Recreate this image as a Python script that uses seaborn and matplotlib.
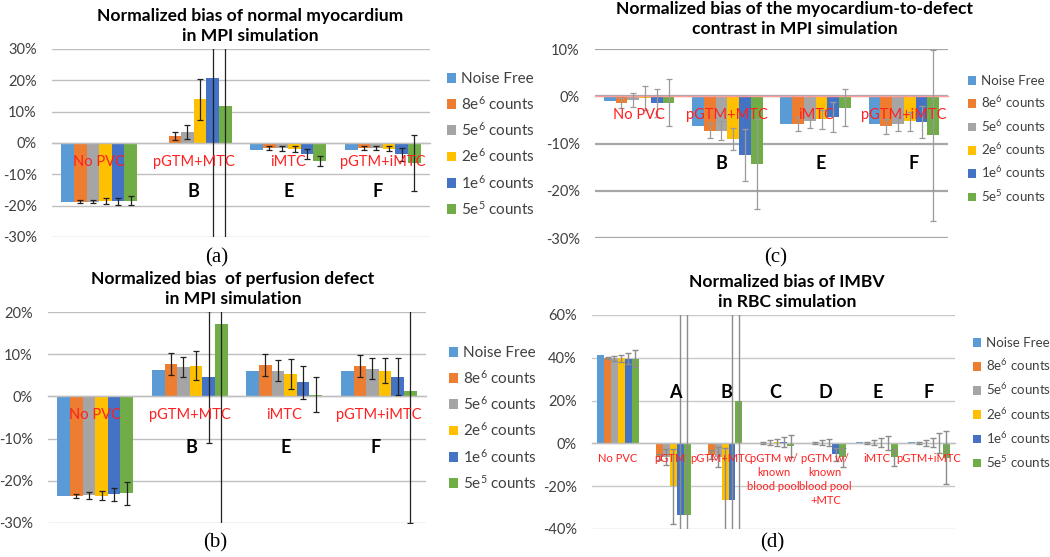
import numpy as np
import pandas as pd
import matplotlib
matplotlib.use("Agg")
import matplotlib.pyplot as plt
import seaborn as sns
from matplotlib.patches import Patch

# ---------------- data ----------------
SERIES = ["Noise Free", "8e$^6$ counts", "5e$^6$ counts",
          "2e$^6$ counts", "1e$^6$ counts", "5e$^5$ counts"]
COLORS = ["#5B9BD5", "#ED7D31", "#A5A5A5", "#FFC000", "#4472C4", "#70AD47"]

MPI_CATS = ["No PVC", "pGTM+MTC", "iMTC", "pGTM+iMTC"]
MPI_LETTERS = ["", "B", "E", "F"]

# (a) normal myocardium, rows = series, cols = categories (%)
A_VALS = [[-18.8, -0.1, -2.1, -2.1],
          [-18.8, 2.3, -1.6, -1.6],
          [-18.8, 3.5, -1.6, -1.6],
          [-18.6, 14.0, -1.8, -1.8],
          [-18.6, 20.8, -3.5, -3.6],
          [-18.4, 11.9, -5.7, -6.3]]
A_ERRS = [[0, 0, 0, 0],
          [0.5, 1.3, 0.5, 0.5],
          [0.5, 2.3, 0.8, 0.7],
          [0.9, 6.5, 1.0, 0.8],
          [1.2, 60, 1.5, 2.0],
          [1.5, 60, 1.6, 8.9]]

# (b) perfusion defect
B_VALS = [[-23.6, 6.3, 6.1, 6.1],
          [-23.6, 7.7, 7.4, 7.3],
          [-23.4, 6.9, 6.1, 6.6],
          [-23.5, 7.3, 5.3, 6.1],
          [-23.2, 4.6, 3.4, 4.7],
          [-23.0, 17.1, 0.4, 1.3]]
B_ERRS = [[0, 0, 0, 0],
          [0.4, 2.7, 2.6, 2.6],
          [0.8, 2.4, 2.5, 2.4],
          [1.0, 3.4, 3.5, 3.0],
          [1.6, 15.7, 3.9, 4.4],
          [2.8, 60, 4.1, 31.3]]

# (c) myocardium-to-defect contrast
C_VALS = [[-0.9, -6.3, -5.9, -5.9],
          [-1.4, -7.3, -5.9, -6.4],
          [-0.8, -7.3, -5.3, -5.9],
          [-0.4, -9.0, -4.9, -5.3],
          [-1.4, -12.4, -4.4, -5.4],
          [-1.4, -14.4, -2.4, -8.3]]
C_ERRS = [[0, 0, 0, 0],
          [1.0, 1.6, 1.5, 1.6],
          [1.5, 2.0, 1.5, 1.5],
          [2.5, 2.3, 2.0, 2.0],
          [3.0, 5.5, 3.1, 3.4],
          [5.0, 9.5, 3.9, 18.0]]

# (d) IMBV in RBC simulation
RBC_CATS = ["No PVC", "pGTM", "pGTM+MTC", "pGTM w/\nknown\nblood pool",
            "pGTM w/\nknown\nblood pool\n+MTC", "iMTC", "pGTM+iMTC"]
RBC_LETTERS = ["", "A", "B", "C", "D", "E", "F"]
D_VALS = [[41.1, -0.2, -0.2, 0.1, 0.2, 0.5, 0.6],
          [40.0, -6.3, -5.2, 0.2, 0.2, 0.3, 0.2],
          [39.8, -6.5, -6.5, 0.4, 0.4, 0.4, 0.3],
          [39.8, -20.0, -26.5, 0.5, 0.4, 0.3, 0.4],
          [39.6, -33.5, -26.5, 0.6, -5.0, 0.2, 0.2],
          [39.6, -33.5, 20.0, -1.2, -6.5, -6.5, -6.6]]
D_ERRS = [[0, 0, 0, 0, 0, 0, 0],
          [0.5, 1.5, 2.0, 0.4, 0.5, 0.5, 0.6],
          [1.2, 3.8, 4.7, 1.0, 1.0, 1.2, 1.3],
          [1.7, 17.5, 24.5, 1.5, 1.5, 2.0, 2.0],
          [2.5, 100, 100, 2.5, 3.0, 3.2, 4.5],
          [4.0, 100, 100, 5.3, 4.5, 4.0, 12.6]]

# ---------------- style ----------------
sns.set_style("white")
plt.rcParams["font.family"] = ["Lato", "DejaVu Sans"]
plt.rcParams["mathtext.fontset"] = "custom"
plt.rcParams["mathtext.rm"] = "Lato"
plt.rcParams["mathtext.it"] = "Lato:italic"
plt.rcParams["mathtext.bf"] = "Lato:bold"
plt.rcParams["axes.unicode_minus"] = False

W, H = 1050, 557
fig = plt.figure(figsize=(W / 100, H / 100), dpi=100)
TXT = "#404040"
RED = "#FF2020"


def px_axes(left, top, right, bottom):
    return fig.add_axes([left / W, 1 - bottom / H, (right - left) / W, (bottom - top) / H])


def panel(box, cats, vals, errs, ylo, yhi, step, grid_c, grid_lw, zero_c,
          err_c, err_lw, label_y, label_fs, label_va, label_ls, letters, letter_y,
          letter_dx, xticks=True):
    ax = px_axes(*box)
    rows = [(c, s, v) for s, row in zip(SERIES, vals) for c, v in zip(cats, row)]
    df = pd.DataFrame(rows, columns=["cat", "series", "val"])
    sns.barplot(data=df, x="cat", y="val", hue="series", order=cats,
                hue_order=SERIES, palette=COLORS, saturation=1, errorbar=None,
                legend=False, width=0.8, linewidth=0, ax=ax, zorder=2)
    for cont, vrow, erow in zip(ax.containers, vals, errs):
        for bar, v, e in zip(cont, vrow, erow):
            if e <= 0:
                continue
            x = bar.get_x() + bar.get_width() / 2
            ax.errorbar(x, v, yerr=e, fmt="none", ecolor=err_c,
                        elinewidth=err_lw, capsize=2.2, capthick=err_lw, zorder=4)
    n = len(cats)
    ax.set_xlim(-0.5, n - 0.5)
    ax.set_ylim(ylo, yhi)
    ticks = np.arange(ylo, yhi + 0.1, step)
    ax.set_yticks(ticks)
    ax.set_yticklabels([f"{t:.0f}%" for t in ticks])
    ax.tick_params(axis="y", length=0, pad=11, labelsize=10.5, labelcolor=TXT)
    ax.grid(axis="y", color=grid_c, lw=grid_lw)
    ax.grid(axis="x", visible=False)
    ax.set_axisbelow(True)
    ax.set_xlabel("")
    ax.set_ylabel("")
    for s in ["top", "right", "left"]:
        ax.spines[s].set_visible(False)
    ax.spines["bottom"].set_position(("data", 0))
    ax.spines["bottom"].set_color(zero_c)
    ax.spines["bottom"].set_linewidth(1.0)
    ax.spines["bottom"].set_zorder(3)
    ax.set_xticks(np.arange(-0.5, n, 1.0))
    ax.tick_params(axis="x", labelbottom=False, direction="inout",
                   length=5 if xticks else 0, color=zero_c, width=0.8)
    for j, c in enumerate(cats):
        ax.text(j, label_y, c, color=RED, ha="center", va=label_va,
                fontsize=label_fs, zorder=10, linespacing=label_ls)
    for j, (lt, dx) in enumerate(zip(letters, letter_dx)):
        if lt:
            ax.text(j + dx, letter_y, lt, color="black", fontweight="bold",
                    fontsize=13, ha="center", va="center", zorder=10)
    return ax


def legend(x, y, spacing, fs):
    handles = [Patch(facecolor=c, edgecolor="none", label=s) for c, s in zip(COLORS, SERIES)]
    fig.legend(handles=handles, loc="upper left", bbox_to_anchor=(x / W, 1 - y / H),
               frameon=False, borderpad=0, borderaxespad=0, handlelength=0.62,
               handleheight=0.62, handletextpad=0.32, labelspacing=spacing,
               fontsize=fs, labelcolor=TXT)


def title(x, y, s):
    fig.text(x / W, 1 - y / H, s, ha="center", va="center", fontsize=12.6,
             fontweight="bold", color="black", linespacing=1.28)


def plabel(x, y, s):
    fig.text(x / W, 1 - y / H, s, ha="center", va="center", fontsize=15,
             family="Liberation Serif", color="black")


# (a)
panel((52, 49, 430, 237), MPI_CATS, A_VALS, A_ERRS, -30, 30, 10, "#BFBFBF", 1.0,
      "#BFBFBF", "#222222", 0.9, -6.2, 10.5, "center", 1.15, MPI_LETTERS, -15.5,
      [0, 0, 0, -0.05])
title(250, 26, "Normalized bias of normal myocardium\nin MPI simulation")
legend(447, 72, 0.55, 11)
plabel(217, 258, "(a)")

# (c)
panel((595, 49, 948, 238), MPI_CATS, C_VALS, C_ERRS, -30, 10, 10, "#A6A6A6", 1.6,
      "#FF9C9C", "#9A9A9A", 0.9, -4.0, 10.5, "center", 1.15, MPI_LETTERS, -14.2,
      [0, -0.07, 0.06, 0.11], xticks=False)
title(795, 19, "Normalized bias of the myocardium-to-defect\ncontrast in MPI simulation")
legend(968, 75, 0.56, 9.6)
plabel(776, 258, "(c)")

# (b)
panel((48, 312, 426, 523), MPI_CATS, B_VALS, B_ERRS, -30, 20, 10, "#BFBFBF", 1.0,
      "#BFBFBF", "#222222", 0.9, -4.5, 10.5, "center", 1.15, MPI_LETTERS, -12.2,
      [0, 0.02, 0.01, -0.03])
title(233, 289, "Normalized bias  of perfusion defect\nin MPI simulation")
legend(449, 346, 0.55, 11)
plabel(215, 543, "(b)")

# (d)
panel((592, 315, 955, 529), RBC_CATS, D_VALS, D_ERRS, -40, 60, 20, "#C8C8C8", 1.0,
      "#BFBFBF", "#8C8C8C", 1.0, -4.6, 8, "top", 1.32, RBC_LETTERS, 23.7,
      [0, 0.1, 0.1, 0.04, 0, 0, 0])
title(787, 292, "Normalized bias of IMBV\nin RBC simulation")
legend(973, 337, 0.62, 9.6)
plabel(772, 543, "(d)")

fig.savefig("out.png", dpi=100)
